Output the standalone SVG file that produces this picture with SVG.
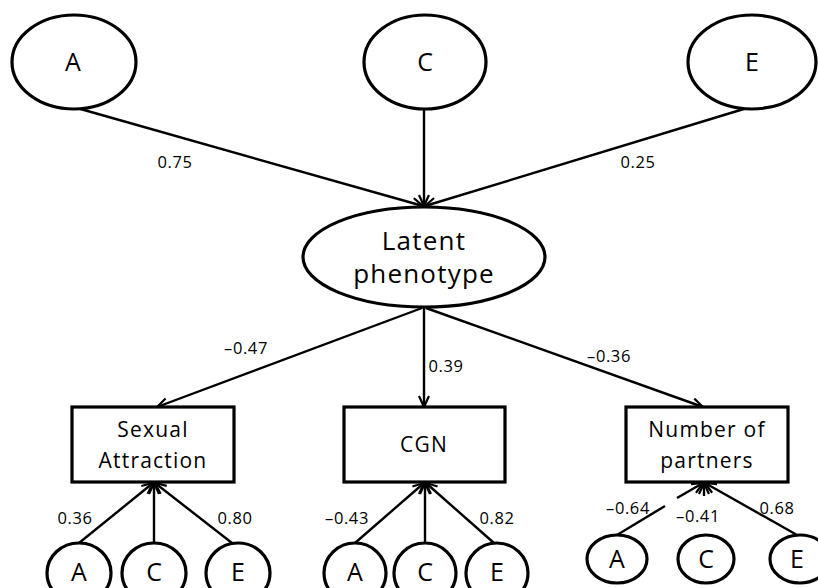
<svg xmlns="http://www.w3.org/2000/svg" width="818" height="588" viewBox="0 0 818 588">
<style>
.sh{fill:#fff;stroke:#000;stroke-width:3.2}
.ln{stroke:#000;stroke-width:2.4;fill:none}
.t{font-family:"Open Sans","Liberation Sans",sans-serif;fill:#000;text-anchor:middle}
.big{font-size:25px}
.mid{font-size:21px;letter-spacing:1.2px}
.lat{font-size:26px;letter-spacing:1.2px}
.num{font-size:16.5px;letter-spacing:0.6px;font-weight:500}
.sm{font-size:25px}
</style>
<defs>
<marker id="arr" markerUnits="userSpaceOnUse" markerWidth="14" markerHeight="14" refX="12" refY="6" orient="auto">
<path d="M1,1 L12,6 L1,11" fill="none" stroke="#000" stroke-width="2.2"/>
</marker>
</defs>
<g id="connectors">
<line class="ln" x1="77" y1="108" x2="423" y2="206" marker-end="url(#arr)"/>
<line class="ln" x1="424" y1="109" x2="424" y2="206" marker-end="url(#arr)"/>
<line class="ln" x1="747" y1="108" x2="425" y2="206" marker-end="url(#arr)"/>
<line class="ln" x1="422" y1="308" x2="157" y2="407" marker-end="url(#arr)"/>
<line class="ln" x1="424" y1="308" x2="424" y2="407" marker-end="url(#arr)"/>
<line class="ln" x1="426" y1="308" x2="703" y2="407" marker-end="url(#arr)"/>
<line class="ln" x1="79" y1="543" x2="153" y2="483" marker-end="url(#arr)"/>
<line class="ln" x1="154" y1="543" x2="154" y2="483" marker-end="url(#arr)"/>
<line class="ln" x1="232" y1="543" x2="155" y2="483" marker-end="url(#arr)"/>
<line class="ln" x1="355" y1="543" x2="424" y2="483" marker-end="url(#arr)"/>
<line class="ln" x1="425" y1="543" x2="425" y2="483" marker-end="url(#arr)"/>
<line class="ln" x1="494" y1="543" x2="426" y2="483" marker-end="url(#arr)"/>
<line class="ln" x1="617" y1="535" x2="665" y2="506"/>
<line class="ln" x1="677" y1="498" x2="703" y2="483" marker-end="url(#arr)"/>
<line class="ln" x1="704" y1="496" x2="704" y2="483" marker-end="url(#arr)"/>
<line class="ln" x1="797" y1="535" x2="705" y2="483" marker-end="url(#arr)"/>
<text class="t num" x="175" y="168">0.75</text>
<text class="t num" x="638" y="168">0.25</text>
<text class="t num" x="246" y="354">–0.47</text>
<text class="t num" x="446" y="372">0.39</text>
<text class="t num" x="609" y="362">–0.36</text>
<text class="t num" x="75" y="524">0.36</text>
<text class="t num" x="235" y="524">0.80</text>
<text class="t num" x="347" y="524">–0.43</text>
<text class="t num" x="497" y="524">0.82</text>
<text class="t num" x="628" y="514">–0.64</text>
<text class="t num" x="698" y="522">–0.41</text>
<text class="t num" x="777" y="514">0.68</text>
</g>
<g id="topA"><ellipse class="sh" cx="74" cy="62" rx="62" ry="47"/><text class="t big" x="73" y="71">A</text></g>
<g id="topC"><ellipse class="sh" cx="425" cy="62" rx="61" ry="47"/><text class="t big" x="425" y="71">C</text></g>
<g id="topE"><ellipse class="sh" cx="752" cy="62" rx="64" ry="47"/><text class="t big" x="752" y="71">E</text></g>
<g id="latent"><ellipse class="sh" cx="424" cy="257" rx="121" ry="50"/><text class="t lat" x="424" y="250">Latent</text><text class="t lat" x="424" y="283">phenotype</text></g>
<g id="sexual"><rect class="sh" x="72" y="407" width="162" height="75"/><text class="t mid" x="153" y="437">Sexual</text><text class="t mid" x="153" y="468">Attraction</text></g>
<g id="cgn"><rect class="sh" x="344" y="407" width="161" height="75"/><text class="t mid" x="424" y="452">CGN</text></g>
<g id="partners"><rect class="sh" x="626" y="407" width="162" height="75"/><text class="t mid" x="707" y="437">Number of</text><text class="t mid" x="707" y="468">partners</text></g>
<g id="saA"><ellipse class="sh" cx="79" cy="573" rx="32" ry="30"/><text class="t sm" x="79" y="581">A</text></g>
<g id="saC"><ellipse class="sh" cx="154" cy="573" rx="32" ry="30"/><text class="t sm" x="154" y="581">C</text></g>
<g id="saE"><ellipse class="sh" cx="238" cy="573" rx="32" ry="30"/><text class="t sm" x="238" y="581">E</text></g>
<g id="cgA"><ellipse class="sh" cx="355" cy="573" rx="31" ry="30"/><text class="t sm" x="355" y="581">A</text></g>
<g id="cgC"><ellipse class="sh" cx="425" cy="573" rx="31" ry="30"/><text class="t sm" x="425" y="581">C</text></g>
<g id="cgE"><ellipse class="sh" cx="497" cy="573" rx="31" ry="30"/><text class="t sm" x="497" y="581">E</text></g>
<g id="npA"><ellipse class="sh" cx="617" cy="559" rx="30" ry="24"/><text class="t sm" x="617" y="568">A</text></g>
<g id="npC"><ellipse class="sh" cx="706" cy="559" rx="28" ry="24"/><text class="t sm" x="706" y="568">C</text></g>
<g id="npE"><ellipse class="sh" cx="800" cy="559" rx="30" ry="24"/><text class="t sm" x="797" y="568">E</text></g>
</svg>
